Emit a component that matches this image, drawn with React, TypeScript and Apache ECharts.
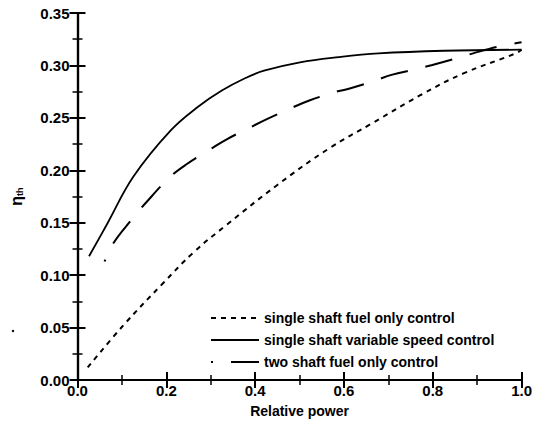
import React, { useEffect, useRef } from "react";
import * as echarts from "echarts";

// Relative power (x) and thermal efficiency (y)
const fuelOnlyX = [0.023, 0.104, 0.192, 0.262, 0.336, 0.45, 0.567, 0.663, 0.773, 0.869, 0.987, 1.0];
const fuelOnlyY = [0.012, 0.0525, 0.092, 0.122, 0.148, 0.186, 0.221, 0.2447, 0.2718, 0.2924, 0.3115, 0.315];

const varSpeedX = [0.026, 0.067, 0.126, 0.21, 0.273, 0.325, 0.376, 0.42, 0.501, 0.589, 0.678, 0.825, 1.0];
const varSpeedY = [0.118, 0.149, 0.194, 0.238, 0.261, 0.276, 0.2875, 0.295, 0.303, 0.308, 0.3115, 0.314, 0.315];

const twoShaftX = [0.061, 0.08, 0.122, 0.154, 0.207, 0.243, 0.299, 0.336, 0.392, 0.43, 0.485, 0.522, 0.575, 0.613, 0.67, 0.707, 0.76, 0.799, 0.853, 0.891, 0.946, 1.0];
const twoShaftY = [0.113, 0.13, 0.153, 0.169, 0.193, 0.205, 0.22, 0.2295, 0.2416, 0.2495, 0.26, 0.2665, 0.274, 0.278, 0.2855, 0.291, 0.2963, 0.3004, 0.3067, 0.3115, 0.3178, 0.322];

const seriesNames = [
  "single shaft fuel only control",
  "single shaft variable speed control",
  "two shaft fuel only control",
];

const zip = (xs: number[], ys: number[]) => xs.map((x, i) => [x, ys[i]]);

const FONT = "'Liberation Sans', Arial, sans-serif";

export default function App() {
  const ref = useRef<HTMLDivElement>(null);
  useEffect(() => {
    if (!ref.current) return;
    const chart = echarts.init(ref.current, undefined, { renderer: "svg" });
    const axisLine = { show: true, lineStyle: { color: "#000", width: 2.2 } };
    const baseX = {
      type: "value" as const,
      min: 0,
      max: 1,
      interval: 0.2,
      axisLine,
      axisTick: { inside: true, length: 8, lineStyle: { color: "#000", width: 2 } },
      minorTick: { show: true, splitNumber: 2, length: 5, lineStyle: { color: "#000", width: 1.5 } },
      splitLine: { show: false },
    };
    const baseY = {
      type: "value" as const,
      min: 0,
      max: 0.35,
      interval: 0.05,
      axisLine,
      axisTick: { inside: true, length: 8, lineStyle: { color: "#000", width: 2 } },
      minorTick: { show: true, splitNumber: 2, length: 5, lineStyle: { color: "#000", width: 1.5 } },
      splitLine: { show: false },
    };
    chart.setOption({
      animation: false,
      backgroundColor: "#fff",
      color: ["#000", "#000", "#000"],
      grid: { left: 73, right: 9, top: 13, bottom: 49, containLabel: false },
      xAxis: [
        {
          ...baseX,
          position: "bottom",
          name: "Relative power",
          nameLocation: "middle",
          nameGap: 24,
          nameTextStyle: { fontFamily: FONT, fontWeight: "bold", fontSize: 14, color: "#000" },
          axisLabel: {
            fontFamily: FONT,
            fontWeight: "bold",
            fontSize: 15,
            color: "#000",
            margin: 3,
            formatter: (v: number) => v.toFixed(1),
          },
        },
        { ...baseX, position: "top", axisLabel: { show: false } },
      ],
      yAxis: [
        {
          ...baseY,
          position: "left",
          name: "{eta|η}{sub|th}",
          nameLocation: "middle",
          nameRotate: 90,
          nameGap: 53,
          nameTextStyle: {
            rich: {
              eta: { fontFamily: FONT, fontWeight: "bold", fontSize: 16, color: "#000" },
              sub: { fontFamily: FONT, fontWeight: "bold", fontSize: 9, color: "#000", verticalAlign: "bottom", padding: [8, 0, 0, 0] },
            },
          },
          axisLabel: {
            fontFamily: FONT,
            fontWeight: "bold",
            fontSize: 15,
            color: "#000",
            margin: 8,
            formatter: (v: number) => v.toFixed(2),
          },
        },
        { ...baseY, position: "right", axisLabel: { show: false } },
      ],
      legend: {
        orient: "vertical",
        left: 205,
        top: 306,
        itemWidth: 48,
        itemHeight: 14,
        itemGap: 8,
        itemStyle: { opacity: 0 },
        textStyle: { fontFamily: FONT, fontWeight: "bold", fontSize: 14, color: "#000" },
        data: seriesNames,
      },
      series: [
        {
          name: seriesNames[0],
          type: "line",
          data: zip(fuelOnlyX, fuelOnlyY),
          smooth: 0.4,
          symbol: "none",
          itemStyle: { color: "#000" },
          lineStyle: { color: "#000", width: 2, type: [5, 5] },
        },
        {
          name: seriesNames[1],
          type: "line",
          data: zip(varSpeedX, varSpeedY),
          smooth: 0.4,
          symbol: "none",
          itemStyle: { color: "#000" },
          lineStyle: { color: "#000", width: 1.8, type: "solid" },
        },
        {
          name: seriesNames[2],
          type: "line",
          data: zip(twoShaftX, twoShaftY),
          smooth: 0.4,
          symbol: "none",
          itemStyle: { color: "#000" },
          lineStyle: { color: "#000", width: 2, type: [28, 18], dashOffset: 26 },
        },
      ],
      graphic: [
        { type: "circle", shape: { cx: 13, cy: 331, r: 1.2 }, style: { fill: "#000" } },
      ],
    });
    return () => chart.dispose();
  }, []);
  return (
    <div
      ref={ref}
      style={{ position: "fixed", left: 0, top: 0, width: 535, height: 429, background: "#fff" }}
    />
  );
}
